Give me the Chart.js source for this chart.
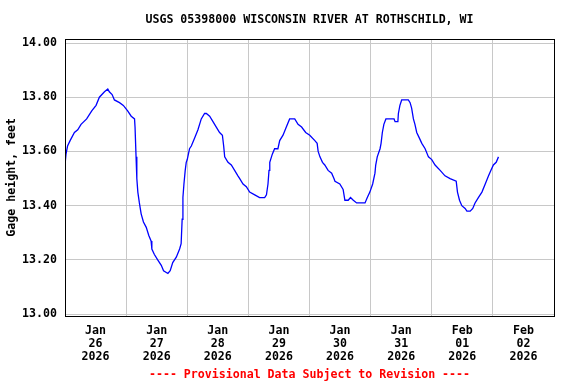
<!DOCTYPE html>
<html>
<head>
<meta charset="utf-8">
<title>USGS 05398000 Wisconsin River at Rothschild, WI</title>
<script src="https://cdn.jsdelivr.net/npm/chart.js@4/dist/chart.umd.min.js"></script>
<style>
    html, body { margin: 0; padding: 0; background: #ffffff; }
    #chartBox { width: 576px; height: 384px; }
</style>
</head>
<body>
<div id="chartBox"><canvas id="gageChart" width="576" height="384"></canvas></div>
<script>
// Hours since Jan 26 2026 00:00
const hoursSinceStart = [
    0, 0.4, 1.0, 2.0, 3.7, 5.0, 6.3, 8.5, 10.5, 12.2,
    13.5, 15.5, 16.8, 17.4, 18.5, 19.4, 21.4, 22.9, 24.6, 26.0,
    27.3, 27.5, 27.9, 28.2, 28.6, 29.2, 29.9, 30.8, 31.9, 32.9,
    33.8, 34.1, 35.1, 36.4, 37.8, 38.7, 40.4, 41.3, 42.3, 43.7,
    45.0, 45.6, 46.0, 46.3, 46.7, 47.2, 47.6, 48.0, 48.9, 49.6,
    50.9, 52.2, 53.5, 54.8, 55.5, 56.8, 58.1, 59.4, 60.7, 61.8,
    62.3, 62.7, 64.0, 65.3, 66.6, 67.9, 68.6, 69.9, 71.2, 72.5,
    74.5, 76.4, 78.4, 79.1, 79.7, 80.1, 80.4, 81.4, 82.3, 83.6,
    84.3, 85.6, 86.9, 88.2, 88.9, 90.2, 91.5, 92.9, 94.5, 96.1,
    98.1, 99.0, 99.4, 100.1, 101.1, 102.0, 103.3, 104.7, 105.6, 106.0,
    107.9, 109.2, 109.9, 111.2, 112.1, 113.2, 114.5, 117.8, 118.7, 119.7,
    120.8, 121.7, 122.0, 122.6, 123.7, 124.1, 124.6, 125.2, 126.0, 129.2,
    129.6, 130.7, 130.9, 131.5, 132.2, 132.8, 134.8, 135.5, 136.1, 136.8,
    137.4, 138.1, 139.1, 140.1, 141.4, 142.7, 144.0, 145.3, 147.3, 149.2,
    151.2, 153.6, 154.1, 154.9, 155.8, 157.1, 157.8, 159.1, 160.1, 161.0,
    162.3, 163.7, 165.0, 166.3, 167.2, 168.2, 169.3, 170.2
];

// Gage height, feet
const gageHeight = [
    13.55, 13.59, 13.62, 13.64, 13.67, 13.68, 13.70, 13.72, 13.75, 13.77,
    13.80, 13.82, 13.83, 13.82, 13.81, 13.79, 13.78, 13.77, 13.75, 13.73,
    13.72, 13.69, 13.58, 13.50, 13.45, 13.41, 13.37, 13.34, 13.32, 13.29,
    13.27, 13.24, 13.22, 13.20, 13.18, 13.16, 13.15, 13.16, 13.19, 13.21,
    13.24, 13.26, 13.35, 13.43, 13.48, 13.53, 13.56, 13.57, 13.61, 13.62,
    13.65, 13.68, 13.72, 13.74, 13.74, 13.73, 13.71, 13.69, 13.67, 13.66,
    13.62, 13.58, 13.56, 13.55, 13.53, 13.51, 13.50, 13.48, 13.47, 13.45,
    13.44, 13.43, 13.43, 13.44, 13.48, 13.53, 13.56, 13.59, 13.61, 13.61,
    13.64, 13.66, 13.69, 13.72, 13.72, 13.72, 13.70, 13.69, 13.67, 13.66,
    13.64, 13.63, 13.60, 13.58, 13.56, 13.55, 13.53, 13.52, 13.50, 13.49,
    13.48, 13.46, 13.42, 13.42, 13.43, 13.42, 13.41, 13.41, 13.43, 13.45,
    13.48, 13.52, 13.55, 13.58, 13.61, 13.63, 13.67, 13.70, 13.72, 13.72,
    13.71, 13.71, 13.74, 13.77, 13.79, 13.79, 13.79, 13.78, 13.76, 13.72,
    13.70, 13.67, 13.65, 13.63, 13.61, 13.58, 13.57, 13.55, 13.53, 13.51,
    13.50, 13.49, 13.45, 13.42, 13.40, 13.39, 13.38, 13.38, 13.39, 13.41,
    13.43, 13.45, 13.48, 13.51, 13.53, 13.55, 13.56, 13.58
];

// Day labels (one per day, shown at noon)
const dayMonths = ['Jan', 'Jan', 'Jan', 'Jan', 'Jan', 'Jan', 'Feb', 'Feb'];
const dayNumbers = ['26', '27', '28', '29', '30', '31', '01', '02'];
const dayYears = ['2026', '2026', '2026', '2026', '2026', '2026', '2026', '2026'];

// Y tick values
const yTicks = [13.00, 13.20, 13.40, 13.60, 13.80, 14.00];

const chartTitle = 'USGS 05398000 WISCONSIN RIVER AT ROTHSCHILD, WI';
const footerText = '---- Provisional Data Subject to Revision ----';

const monoFont = "'DejaVu Sans Mono', 'Liberation Mono', monospace";
const fontSize = 11.6;
const gridColor = '#c8c8c8';

// Black box around the plot area, plus title and footer centred on it
const frameBox = {
    id: 'frameBox',
    afterDraw(chart) {
        const a = chart.chartArea;
        const ctx = chart.ctx;
        const mid = (a.left + a.right) / 2;
        ctx.save();
        ctx.strokeStyle = '#000000';
        ctx.lineWidth = 1;
        ctx.strokeRect(Math.round(a.left) + 0.5, Math.round(a.top) + 0.5,
            Math.round(a.right - a.left), Math.round(a.bottom - a.top));

        ctx.font = 'bold ' + fontSize + 'px ' + monoFont;
        ctx.textAlign = 'center';
        ctx.textBaseline = 'middle';
        ctx.fillStyle = '#000000';
        ctx.fillText(chartTitle, mid, 20);
        ctx.fillStyle = '#ff0000';
        ctx.fillText(footerText, mid, 375);
        ctx.restore();
    }
};

let gageChart = null;

function initializeChart() {
    const ctx = document.getElementById('gageChart');
    if (!ctx) {
        console.error('Canvas element not found');
        return;
    }

    const points = hoursSinceStart.map((h, i) => ({ x: h, y: gageHeight[i] }));

    gageChart = new Chart(ctx, {
        type: 'line',
        data: {
            datasets: [{
                label: 'Gage height',
                data: points,
                borderColor: '#0000ff',
                borderWidth: 1.3,
                pointRadius: 0,
                tension: 0,
                fill: false
            }]
        },
        options: {
            responsive: false,
            animation: false,
            layout: { padding: { left: 0, right: 22, top: 39, bottom: 0 } },
            plugins: {
                legend: { display: false },
                tooltip: { enabled: false },
                title: { display: false }
            },
            scales: {
                x: {
                    type: 'linear',
                    min: 0,
                    max: 192,
                    afterBuildTicks(scale) {
                        const t = [];
                        for (let h = 0; h <= 192; h += 12) t.push({ value: h });
                        scale.ticks = t;
                    },
                    afterFit(scale) { scale.height = 68.4; },
                    ticks: {
                        autoSkip: false,
                        maxRotation: 0,
                        padding: 9,
                        color: '#000000',
                        font: { family: monoFont, size: fontSize, weight: 'bold', lineHeight: 1.13 },
                        callback(value) {
                            if (value % 24 !== 12) return '';
                            const d = Math.floor(value / 24);
                            return [dayMonths[d], dayNumbers[d], dayYears[d]];
                        }
                    },
                    grid: {
                        drawTicks: false,
                        lineWidth: 1,
                        color(c) {
                            return c.tick && c.tick.value % 24 === 0 ? gridColor : 'rgba(0,0,0,0)';
                        }
                    },
                    border: { display: false }
                },
                y: {
                    min: 12.9945,
                    max: 14.0148,
                    afterBuildTicks(scale) {
                        scale.ticks = yTicks.map(v => ({ value: v }));
                    },
                    afterFit(scale) { scale.width = 65; },
                    ticks: {
                        padding: 8,
                        color: '#000000',
                        font: { family: monoFont, size: fontSize, weight: 'bold' },
                        callback(value) { return Number(value).toFixed(2); }
                    },
                    grid: {
                        drawTicks: false,
                        lineWidth: 1,
                        color: gridColor
                    },
                    border: { display: false },
                    title: {
                        display: true,
                        text: 'Gage height, feet',
                        color: '#000000',
                        font: { family: monoFont, size: fontSize, weight: 'bold' },
                        padding: { top: 5, bottom: 0 }
                    }
                }
            }
        },
        plugins: [frameBox]
    });
}

document.addEventListener('DOMContentLoaded', initializeChart);
</script>
</body>
</html>
